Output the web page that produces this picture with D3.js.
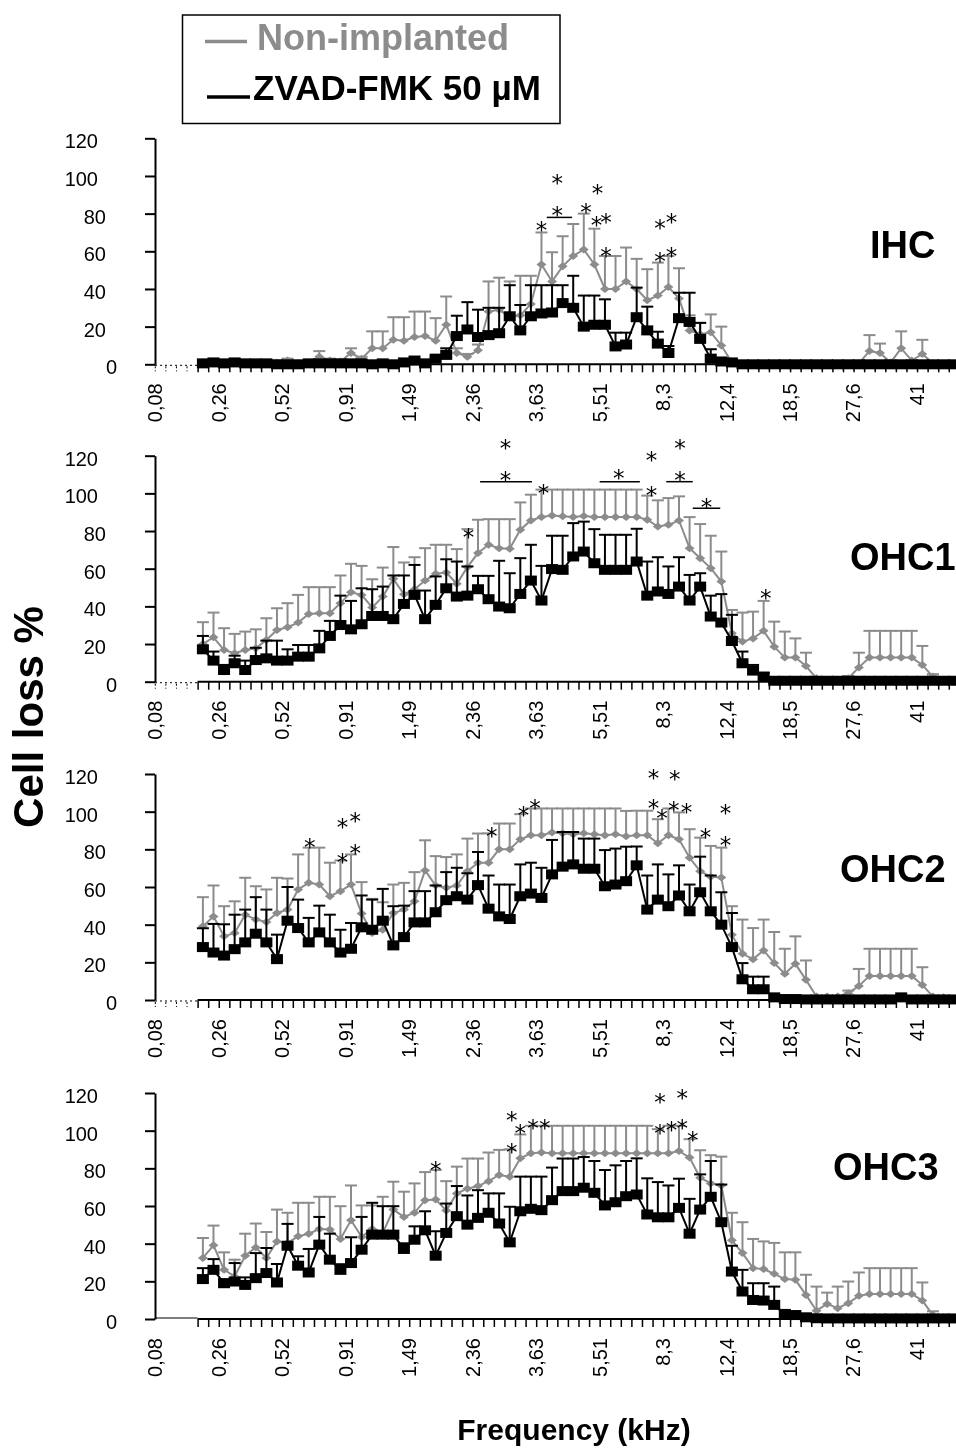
<!DOCTYPE html>
<html><head><meta charset="utf-8">
<script src="https://cdn.jsdelivr.net/npm/d3@7"></script>
<style>body{margin:0;background:#fff}svg{display:block;will-change:transform}</style>
</head><body>
<svg id="chart" width="956" height="1448"></svg>
<script>
// ---------- data ----------
const seriesNames = ["Non-implanted", "ZVAD-FMK 50 µM"];
const panelNames = ["IHC", "OHC1", "OHC2", "OHC3"];
const xTickLabels = ["0,08","0,26","0,52","0,91","1,49","2,36","3,63","5,51","8,3","12,4","18,5","27,6","41"];
const xTickStep = 6;          // one label every 6 categories
const categoryCount = 77;     // category indices 0..76
const firstDataIndex = 5;     // data start at category 5
const yTicks = [0, 20, 40, 60, 80, 100, 120];

// IHC
const ihcNonImplanted = [0,0.5,0,0.5,0,0,0.5,1,2,0.5, 1,4,2,1.5,6,3,8.5,8.5,13,12.5, 14.5,15,12.5,21,6,4,7.5,28,29,25, 26,32,53,44,52,57.5,61,53,40,40, 44,40,34,36.5,41,35,18,16,17,10, 1,0,0,0,0,0,0,0,0,0, 0,0,0.5,7,6,1,8.5,2,5.5,0.5, 0,0];
const ihcNonImplantedErr = [0,0,0,0,0,0,0,1,1,0, 0,3,1,1,2.5,1,9,9,12,12.5, 13.5,13,12,15,2.5,1.5,3,16,17,19, 21,15,17,15.5,16,17,19,19,17.5,17.5, 18,16,16.5,17.5,16.5,16,8,6,9.5,10, 0,0,0,0,0,0,0,0,0,0, 0,0,0,8.5,5,0,9,0,7.5,0, 0,0];
const ihcZvad = [0.5,1,0.5,1,0.5,0.5,0.5,0,0,0, 0.5,0.5,0.5,0.5,0.5,0.5,0,0.5,0,1, 2,0.5,3,5,15,18.5,14.5,15.5,16.5,25.5, 18,25.5,27,27.5,32.5,30,20,21,21,9.5, 10.5,25,18,11,6,24.5,22.5,13.5,3,1.5, 1,0,0,0,0,0,0,0,0,0, 0,0,0,0,0,0,0,0,0,0, 0,0];
const ihcZvadErr = [0,0,0,0,0,0,0,0,0,0, 0,0,0,0,0,0,0,0,0,0, 0,0,1,3.5,10.8,14.5,14.5,14.5,13.5,16.5, 13.5,16.5,15,14.5,9.5,17,16.5,15.5,13.5,7.3, 6.3,15.7,12.6,6.3,3.7,13.5,15.5,8.5,5,0, 0,0,0,0,0,0,0,0,0,0, 0,0,0,0,0,0,0,0,0,0, 0,0];
const ihcStars = [[37.0,74],[38.5,98.8],[38.5,81.9],[41.2,83.7],[42.3,93.5],[42.2,76.6],[43.1,78],[43.1,60.3],[48.2,75],[49.3,78],[48.2,57.5],[49.3,60.3]];
const ihcBrackets = [[37.5,39.9,78]];

// OHC1
const ohc1NonImplanted = [20,23.6,16.8,15.1,16.8,17.7,22.2,27.5,28.9,31.4, 36,36.3,36.3,41.7,47.5,46.1,39.4,45.2,54.6,46.4, 49.1,53.7,57.3,58,52,60.8,68.3,72.7,70.9,70.6, 80.7,85.6,87.4,88.3,87.8,87.5,88,87.5,87.5,87.5, 87.5,87.5,86,82.4,83.3,85.6,70.9,65.6,60.3,53.2, 25.7,21.3,23,27,18.6,12.8,12.8,8.3,1.8,0.9, 0.5,1.8,7.6,12.8,12.8,12.8,12.8,12.8,8.9,2.7, 0.9,0];
const ohc1NonImplantedErr = [11.6,13.1,11.6,10.3,9.8,10.1,11.5,11.5,12.8,14.7, 14.2,13.9,13.9,14.7,15.1,15.4,15,15.4,16.9,16.9, 17,17.2,15.4,14.7,18.4,20.2,17.7,13.6,15.4,15.7, 14.5,13.7,14.6,13.7,14.2,14.5,14,14.5,14.5,14.5, 14.5,14.5,12.8,13.9,14.2,12.8,16.5,18.1,17.2,15.9, 12.4,15.4,14.2,15.9,13.3,13.8,10.2,7.1,0,0, 0,1.2,7.8,14.2,14.2,14.2,14.2,14.2,10.1,1.3, 0,0];
const ohc1Zvad = [17.2,11.2,6.2,9.8,6.2,11.5,12.4,11.2,11.2,13.3, 13.3,17.7,24.3,30.1,27.8,30.5,34.9,34.9,33.2,41.3, 46.1,33.2,40.8,49.6,45.2,45.7,49.1,43.8,39.9,39, 46.6,53.7,43.1,59.8,59.4,66.5,69.1,62.9,59.4,59.4, 59.4,63.8,45.7,47.9,46.6,50.5,43.1,50.5,34.6,31.4, 21.6,9.8,5.9,2.7,0.5,0.5,0.5,0.5,0.5,0.5, 0.5,0.5,0.5,0.5,0.5,0.5,0.5,0.5,0.5,0.5, 0.5,0.5];
const ohc1ZvadErr = [7.1,4.8,2.7,4,5,6.5,9.4,10.6,6,6.2, 6.2,9.3,8,15.6,15.1,19.1,14.2,15.6,23.2,15.1, 15.9,15.2,15.1,15.4,18.6,15.5,7.1,12.4,24.3,18.6, 19,19,18.4,17.7,18.1,17.7,15.9,18.1,18.6,18.6, 18.6,17.4,18.1,18.2,14.6,15.6,13.6,7.1,11.1,15.1, 13.9,6.2,3,2,0,0,0,0,0,0, 0,0,0,0,0,0,0,0,0,0, 0,0];
const ohc1Stars = [[33.6,126.6],[33.6,109.8],[30.1,79.6],[37.2,102.7],[44.3,110.6],[47.4,120.3],[47.4,101.7],[50.1,126.6],[50.1,109.8],[52.6,95.6],[58.2,47]];
const ohc1Brackets = [[31.2,36.1,106.2],[42.5,46.3,106.2],[48.8,51.3,106.2],[51.3,53.9,92.1]];

// OHC2
const ohc2NonImplanted = [39.1,44.4,33.8,35.6,45.3,42.7,41.4,46.2,48,58.7, 62.2,61.3,55.1,57.8,61.3,45.9,35.6,37.3,46.2,48, 52.4,68.8,60.8,59.6,60.8,68.4,72.9,72.9,80,80, 85.3,87.5,87.5,88.9,88.5,88,88.5,88,87.5,88, 87,87.5,87.5,83.2,87.5,85.3,75.5,68.4,65.5,65, 34.7,24.5,21.7,26.3,19.6,13.9,19.2,10.7,1.8,1.8, 1.8,3.6,7.5,12.8,12.8,12.8,12.8,12.8,8,1.8, 1.4,0];
const ohc2NonImplantedErr = [15.5,16.4,16,16.8,19.6,17.7,17.3,18.7,16.5,18.6, 18.7,19.6,17.8,16.3,16,16.7,18.1,14.6,15.1,14.2, 15.5,16,15.6,16.3,16.5,17.3,15.5,15.6,13.7,13.7, 13.4,14.2,14.2,12.8,13.2,13.7,13.2,13.7,14.2,13.7, 13.4,13,13,12.8,14.2,14.3,15.2,17.8,16.3,15.9, 15.1,18.2,16.5,16.4,16.5,13.3,14.6,10.3,0,0, 0,1.4,9,14.4,14.4,14.4,14.4,14.4,9.4,0, 0,0];
const ohc2Zvad = [28.1,25.2,23.6,27,30.6,35.2,30.6,21.7,42.1,38.2, 30.6,35.9,30.6,25.2,27.2,38.6,37.3,42.1,29,33.4, 41.2,41.2,46.6,53,55.1,53.3,61,48.5,44.4,43, 55.1,56.5,54.2,66.7,70.8,72,69.7,69.7,60.4,61.3, 63.1,71.5,48,53.3,49.8,55.5,47.1,57.2,47.1,40, 28.1,11,5.7,5.7,1.4,0.5,0.5,0.3,0.3,0.3, 0.3,0.3,0.3,0.3,0.3,0.3,1.4,0.3,0.3,0.3, 0.3,0.3];
const ohc2ZvadErr = [10,15.2,16.6,18.3,17.4,19.4,17.4,13,17.9,15.1, 13,14.2,14.7,12.1,13.7,16.9,16,16.9,20.8,16.7, 16.6,16.6,14.2,14.9,15.1,14,17.6,17.6,16.9,18.3, 16.9,16.4,16,18.3,18.4,17.2,16,16,19.2,19.1, 18.3,10,18.1,18.7,16.9,16,14.2,18.9,19,17.2, 18.1,8.6,6.7,6.7,0,0,0,0,0,0, 0,0,0,0,0,0,0,0,0,0, 0,0];
const ohc2Stars = [[15.1,84],[18.2,94.7],[19.4,97.7],[18.2,76.1],[19.4,80.5],[32.3,89.9],[35.3,100.9],[36.4,104.4],[47.6,120.4],[49.6,120.2],[47.6,104.4],[48.4,99.1],[49.5,103.5],[50.7,102.7],[54.4,101.8],[52.5,89.4],[54.4,85]];
const ohc2Brackets = [];

// OHC3
const ohc3NonImplanted = [32.4,39.1,26.1,22.6,33.6,38,32.4,41.2,40.4,43.9, 45.3,47.8,47.5,42.5,52.4,43.6,47.8,45.7,58.1,54.2, 56.4,63.1,63.5,57.6,66.7,69.2,70.6,73.2,76.5,75.5, 85.3,88,88.4,88,88,88,88,88,88,88, 88,88,88,88,88,89.2,85.7,75,72,70.9, 41.8,35,27,26.5,24,21.2,20.8,12.8,4.4,8, 5.7,8.4,12.3,13.3,13.3,13.3,13.3,13.3,9.8,2.1, 0.9,0];
const ohc3NonImplantedErr = [10.6,10.5,9.3,8.9,11.7,12.7,13.8,16.9,16,17.8, 16.4,17.1,17.4,17.4,18.5,16.7,12.5,19.2,14.8,13.4, 15.6,14.9,15.6,15.6,14.2,16,14.6,15.2,13.3,14.6, 12.7,14.6,14.2,14.6,14.6,14.6,14.6,14.6,14.6,14.6, 14.6,14.6,14.6,12.8,14.6,13.4,9.8,14.6,15,15.3, 14.6,16.4,15.5,14.7,16.4,14.2,14.6,10.7,12.8,6, 11.5,11.5,12.4,13.7,13.7,13.7,13.7,13.7,9.6,2, 0,0];
const ohc3Zvad = [21.2,26.1,19,19.9,18.1,21.7,24.4,19.4,38.9,28.3, 24.7,39.5,31.5,26.1,29.7,36.8,44.8,44.8,44.8,37.2, 42.1,47.1,33.6,45.7,54.6,50.1,53.7,56.4,50.7,40.7, 57.2,58.5,57.8,63.1,67.9,67.9,69.7,67,60.3,62, 65.2,66.1,55.5,54,54,59,45.3,58.1,64.9,51.4, 25.2,14.6,10.1,9.8,7.5,2.7,2.1,0.9,0.4,0.3, 0.3,0.3,0.3,0.3,0.3,0.3,0.3,0.3,0.3,0.3, 0.3,0.3];
const ohc3ZvadErr = [5.8,5.7,2,9.8,4,13.3,13.3,9.8,11.6,5, 12.5,14.7,13.8,3,13.7,17.4,16.9,15.1,15.1,3, 7.1,10.1,13,15.6,16,15.5,14.7,10.3,16,18.9, 18.4,17.1,17.8,17.3,17.3,17.3,16.3,16.9,18.8,19.6, 18.7,19.2,19.2,18.7,16.9,15.5,18.5,18.7,19,20, 13.7,11.5,8.9,9.2,9.7,2,0,0,0,0, 0,0,0,0,0,0,0,0,0,0, 0,0];
const ohc3Stars = [[27,81.8],[34.2,108.3],[35,101.3],[36.2,103.9],[37.3,103.9],[34.2,91.5],[48.2,118],[50.3,119.8],[48.2,101.3],[49.3,103],[50.3,103.9],[51.3,97.7]];
const ohc3Brackets = [];

// ---------- drawing ----------
const panels = [
  {name: panelNames[0], gray: ihcNonImplanted, grayErr: ihcNonImplantedErr, black: ihcZvad, blackErr: ihcZvadErr, stars: ihcStars, brackets: ihcBrackets},
  {name: panelNames[1], gray: ohc1NonImplanted, grayErr: ohc1NonImplantedErr, black: ohc1Zvad, blackErr: ohc1ZvadErr, stars: ohc1Stars, brackets: ohc1Brackets},
  {name: panelNames[2], gray: ohc2NonImplanted, grayErr: ohc2NonImplantedErr, black: ohc2Zvad, blackErr: ohc2ZvadErr, stars: ohc2Stars, brackets: ohc2Brackets},
  {name: panelNames[3], gray: ohc3NonImplanted, grayErr: ohc3NonImplantedErr, black: ohc3Zvad, blackErr: ohc3ZvadErr, stars: ohc3Stars, brackets: ohc3Brackets}
];

const GRAY = "#8c8c8c";
const FONT = "'Liberation Sans', Arial, Helvetica, sans-serif";
const svg = d3.select("#chart");
svg.append("rect").attr("width", 956).attr("height", 1448).attr("fill", "#fff");

const axisX = 155;
const x = d3.scaleLinear().domain([0, categoryCount - 1]).range([150, 150 + (categoryCount - 1) * 10.58]);
const panelZero = [364.3, 681.7, 1000, 1319];
const plotH = 226;
const labelPos = [[870, 258], [850, 570], [840, 882], [833, 1180]];

panels.forEach((p, k) => {
  const y = d3.scaleLinear().domain([0, 120]).range([panelZero[k], panelZero[k] - plotH]);
  const g = svg.append("g");

  // y axis
  const ya = g.append("g").attr("transform", `translate(${axisX},0)`)
    .call(d3.axisLeft(y).tickValues(yTicks).tickSize(10).tickSizeOuter(0).tickFormat(d => String(d)));
  ya.select(".domain").attr("stroke", "#000").attr("stroke-width", 2);
  ya.selectAll(".tick line").attr("stroke", "#000").attr("stroke-width", 2);
  ya.selectAll(".tick text")
    .attr("font-family", FONT).attr("font-size", 20).attr("fill", "#000")
    .attr("text-anchor", "end")
    .attr("x", d => { const n = String(d).length; return n === 1 ? -38 : (n === 2 ? -49 : -57); })
    .attr("dy", null).attr("y", 9.5);

  // x axis
  const y0 = y(0);
  const dataStart = x(firstDataIndex - 0.5);
  const xa = g.append("g").attr("transform", `translate(0,${y0})`)
    .call(d3.axisBottom(x).tickValues(d3.range(firstDataIndex - 0.5, categoryCount - 0.4, 1)).tickSize(8).tickSizeOuter(0).tickFormat(""));
  xa.select(".domain").remove();
  xa.selectAll(".tick line").attr("stroke", "#000").attr("stroke-width", 1.5);
  g.append("line").attr("x1", dataStart).attr("x2", 955).attr("y1", y0).attr("y2", y0)
    .attr("stroke", "#000").attr("stroke-width", 2);
  if (k < 3) {
    g.append("line").attr("x1", axisX).attr("x2", dataStart).attr("y1", y0 + 1).attr("y2", y0 + 1)
      .attr("stroke", "#000").attr("stroke-width", 1).attr("stroke-dasharray", "2,3");
    g.selectAll(".dtick").data(d3.range(0.5, firstDataIndex - 0.5, 1)).join("line")
      .attr("x1", d => x(d)).attr("x2", d => x(d)).attr("y1", y0 + 2).attr("y2", y0 + 7)
      .attr("stroke", "#000").attr("stroke-width", 1).attr("stroke-dasharray", "2,2");
  } else {
    g.append("line").attr("x1", axisX).attr("x2", dataStart).attr("y1", y0 - 1).attr("y2", y0 - 1)
      .attr("stroke", "#000").attr("stroke-width", 1.2);
  }
  // x tick labels
  g.selectAll(".xl").data(xTickLabels).join("text")
    .attr("transform", (d, j) => `translate(${x(j * xTickStep) + 5},${y0 + 19}) rotate(-90)`)
    .attr("text-anchor", "end").attr("dy", "0.36em")
    .attr("font-family", FONT).attr("font-size", 20).attr("fill", "#000")
    .text(d => d);

  // series
  const mk = (vals, errs) => vals.map((v, j) => ({i: firstDataIndex + j, v: v, e: errs[j]}));
  const line = d3.line().x(d => x(d.i)).y(d => y(d.v));
  const drawSeries = (data, color, isSquare) => {
    const s = g.append("g");
    const eb = data.filter(d => d.e > 0.4);
    s.selectAll(".ev").data(eb).join("line")
      .attr("x1", d => x(d.i)).attr("x2", d => x(d.i))
      .attr("y1", d => y(d.v)).attr("y2", d => y(d.v + d.e))
      .attr("stroke", color).attr("stroke-width", 2);
    s.selectAll(".ec").data(eb).join("line")
      .attr("x1", d => x(d.i) - 6).attr("x2", d => x(d.i) + 6)
      .attr("y1", d => y(d.v + d.e)).attr("y2", d => y(d.v + d.e))
      .attr("stroke", color).attr("stroke-width", 2);
    s.append("path").datum(data).attr("d", line).attr("fill", "none")
      .attr("stroke", color).attr("stroke-width", 2);
    if (isSquare) {
      s.selectAll(".m").data(data).join("rect")
        .attr("x", d => x(d.i) - 6).attr("y", d => y(d.v) - 5)
        .attr("width", 12).attr("height", 10).attr("fill", color);
    } else {
      s.selectAll(".m").data(data).join("path")
        .attr("d", d => { const cx = x(d.i), cy = y(d.v); return `M${cx - 5},${cy}L${cx},${cy - 4}L${cx + 5},${cy}L${cx},${cy + 4}Z`; })
        .attr("fill", color);
    }
  };
  drawSeries(mk(p.gray, p.grayErr), GRAY, false);
  drawSeries(mk(p.black, p.blackErr), "#000", true);

  // significance annotations
  g.selectAll(".br").data(p.brackets).join("line")
    .attr("x1", d => x(d[0])).attr("x2", d => x(d[1]))
    .attr("y1", d => y(d[2])).attr("y2", d => y(d[2]))
    .attr("stroke", "#000").attr("stroke-width", 1.5);
  g.selectAll(".st").data(p.stars).join("text")
    .attr("x", d => x(d[0])).attr("y", d => y(d[1]) + 13)
    .attr("text-anchor", "middle")
    .attr("font-family", "'DejaVu Sans', sans-serif").attr("font-size", 23).attr("fill", "#000")
    .text("*");

  // panel label
  g.append("text").attr("x", labelPos[k][0]).attr("y", labelPos[k][1])
    .attr("font-family", FONT).attr("font-weight", "bold").attr("font-size", 38).attr("fill", "#000")
    .text(p.name);
});

// axis titles
svg.append("text").attr("transform", "translate(43,717) rotate(-90)")
  .attr("text-anchor", "middle").attr("font-family", FONT).attr("font-weight", "bold")
  .attr("font-size", 42).attr("fill", "#000").text("Cell loss %");
svg.append("text").attr("x", 574).attr("y", 1440)
  .attr("text-anchor", "middle").attr("font-family", FONT).attr("font-weight", "bold")
  .attr("font-size", 30).attr("fill", "#000").text("Frequency (kHz)");

// legend
const lg = svg.append("g");
lg.append("rect").attr("x", 182.5).attr("y", 15).attr("width", 377.5).attr("height", 108.5)
  .attr("fill", "#fff").attr("stroke", "#000").attr("stroke-width", 1.5);
const legendItems = [{name: seriesNames[0], color: GRAY, lx1: 205, lx2: 247, ly: 41.5, tx: 257, ty: 49.5, fs: 36},
                     {name: seriesNames[1], color: "#000", lx1: 207, lx2: 250, ly: 97, tx: 253, ty: 100, fs: 35}];
legendItems.forEach(d => {
  lg.append("line").attr("x1", d.lx1).attr("x2", d.lx2).attr("y1", d.ly).attr("y2", d.ly)
    .attr("stroke", d.color).attr("stroke-width", 3.5);
  lg.append("text").attr("x", d.tx).attr("y", d.ty).attr("font-family", FONT).attr("font-weight", "bold")
    .attr("font-size", d.fs).attr("fill", d.color).text(d.name);
});
</script>
</body></html>
